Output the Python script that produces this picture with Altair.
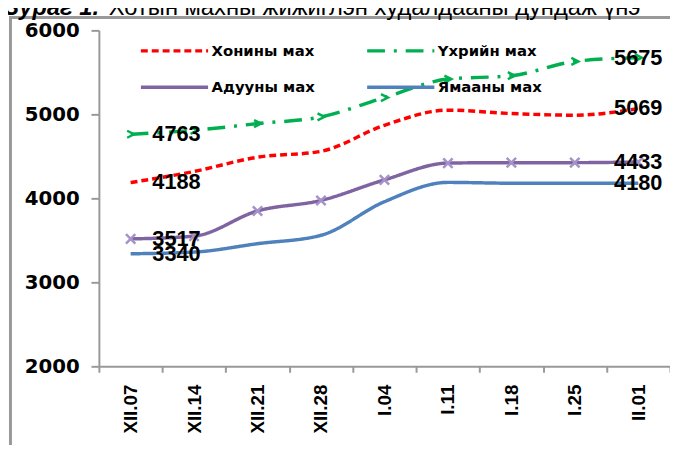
import altair as alt
import pandas as pd

dates = ["XII.07", "XII.14", "XII.21", "XII.28", "I.04", "I.11", "I.18", "I.25", "II.01"]
series = ["Хонины мах", "Үхрийн мах", "Адууны мах", "Ямааны мах"]
khonin = [4188, 4320, 4490, 4560, 4870, 5050, 5010, 4990, 5069]
ukhriin = [4763, 4810, 4890, 4970, 5200, 5420, 5460, 5630, 5675]
aduu = [3517, 3550, 3850, 3975, 4220, 4420, 4425, 4425, 4433]
yamaa = [3340, 3360, 3460, 3560, 3960, 4190, 4180, 4180, 4180]
colors = ["#ff0000", "#00b050", "#8064a2", "#4f81bd"]
title_a = "Зураг 1."
title_b = "Хотын махны жижиглэн худалдааны дундаж үнэ"

rows = []
for name, vals in zip(series, [khonin, ukhriin, aduu, yamaa]):
    for i, (d, v) in enumerate(zip(dates, vals)):
        rows.append({"date": d, "series": name, "value": v, "date_idx": i,
                     "first": i == 0, "last": i == len(dates) - 1})
df = pd.DataFrame(rows)

xenc = alt.X("date:N", sort=dates, bandPosition=0.5,
             scale=alt.Scale(type="band", paddingInner=0, paddingOuter=0),
             axis=alt.Axis(title=None, labelAngle=270, labelFont="Liberation Sans",
                           labelFontWeight="bold", labelFontSize=19, labelColor="black",
                           domainColor="#999999", domainWidth=2, tickColor="#999999",
                           tickWidth=2, tickSize=6, tickBand="extent", labelPadding=12))
yenc = alt.Y("value:Q", scale=alt.Scale(domain=[2000, 6000], nice=False, zero=False),
             axis=alt.Axis(values=[2000, 3000, 4000, 5000, 6000], title=None, grid=False,
                           format="d",
                           labelFont="DejaVu Sans", labelFontWeight="bold", labelFontSize=20,
                           labelColor="black", domainColor="#999999", domainWidth=2,
                           tickColor="#999999", tickWidth=2, tickSize=8, labelPadding=12))

base = alt.Chart(df)

lines = base.mark_line(interpolate="monotone").encode(
    x=xenc, y=yenc,
    color=alt.Color("series:N", sort=series,
                    scale=alt.Scale(domain=series, range=colors),
                    legend=alt.Legend(title=None, orient="none", legendX=40, legendY=10,
                                      columns=2, direction="horizontal",
                                      symbolType="M-4,0H4", symbolSize=289,
                                      symbolOffset=26,
                                      labelFont="DejaVu Sans", labelFontWeight="bold",
                                      labelFontSize=15, labelColor="black",
                                      columnPadding=45, rowPadding=18, labelOffset=27)),
    strokeDash=alt.StrokeDash("series:N", sort=series,
                              scale=alt.Scale(domain=series,
                                              range=[[7, 4], [18, 9, 3, 9], [1, 0], [1, 0]]),
                              legend=None),
    strokeWidth=alt.StrokeWidth("series:N", sort=series,
                                scale=alt.Scale(domain=series, range=[3.5, 3.5, 5, 4]),
                                legend=None),
    order="date_idx:Q",
)

xmark = base.transform_filter(alt.datum.series == "Адууны мах").mark_point(
    shape="M-1,-1L1,1M-1,1L1,-1", filled=False, size=90, strokeWidth=2.5,
    color="#a592c8", opacity=1).encode(x=xenc, y=yenc)

gmark = base.transform_filter(alt.datum.series == "Үхрийн мах").mark_point(
    shape="M-1,-1L1,0L-1,1", filled=False, size=50, strokeWidth=2.5,
    color="#00b050", opacity=1).encode(x=xenc, y=yenc)

lab_first = base.transform_filter(alt.datum.first).mark_text(
    align="left", baseline="middle", dx=22, font="Liberation Sans", fontWeight="bold",
    fontSize=22, color="black").encode(x=xenc, y=yenc, text="value:Q")

lab_last = base.transform_filter(alt.datum.last).mark_text(
    align="center", baseline="middle", dx=0, font="Liberation Sans", fontWeight="bold",
    fontSize=22, color="black").encode(x=xenc, y=yenc, text="value:Q")

frame = alt.Chart(pd.DataFrame({"k": [0]})).mark_rect(
    fillOpacity=0, stroke="#999999", strokeWidth=3).encode(
    x=alt.value(-89.5), x2=alt.value(700), y=alt.value(-13), y2=alt.value(500))

tdf = pd.DataFrame({"a": [title_a], "b": [title_b]})
t1 = alt.Chart(tdf).mark_text(align="left", baseline="alphabetic", font="Liberation Sans",
                              fontSize=24, fontWeight="bold", fontStyle="italic",
                              color="black").encode(text="a:N", x=alt.value(-96), y=alt.value(-16))
t2 = alt.Chart(tdf).mark_text(align="left", baseline="alphabetic", font="Liberation Sans",
                              fontSize=24, color="black").encode(
    text="b:N", x=alt.value(10), y=alt.value(-16))

chart = alt.layer(frame, t1, t2, lines, gmark, xmark, lab_first, lab_last, data=df).properties(
    width=578, height=340,
    padding={"left": 92, "top": 20, "right": 0, "bottom": 77},
    autosize=alt.AutoSizeParams(type="none"),
).configure_view(stroke=None)

chart.save("out.html", embed_options={"renderer": "svg", "actions": False})
